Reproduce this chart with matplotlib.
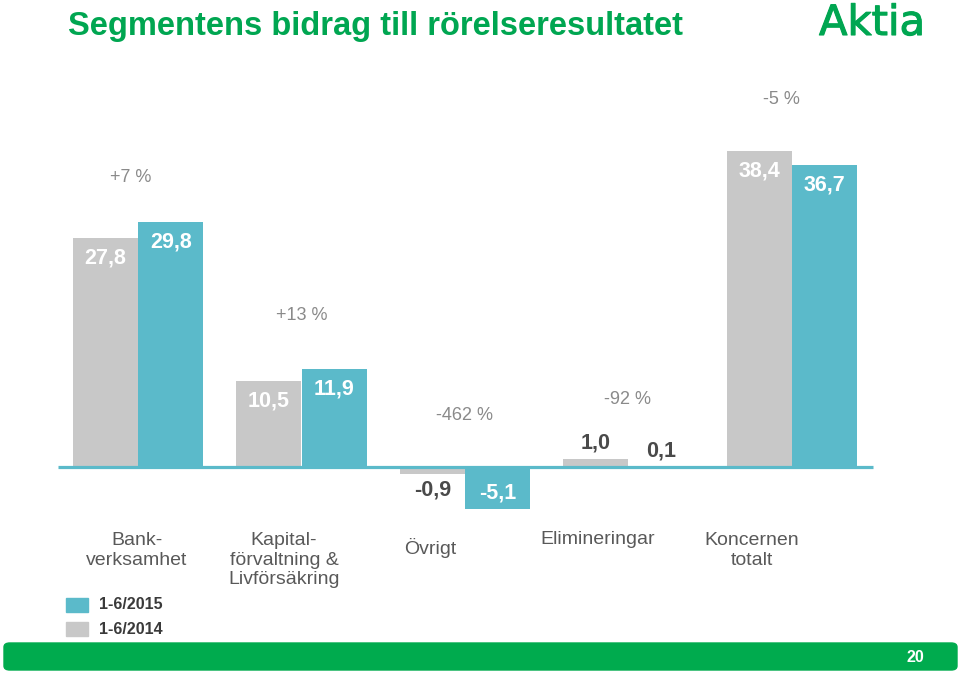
import matplotlib
matplotlib.use("Agg")
import matplotlib.pyplot as plt
import matplotlib.patheffects as pe
from matplotlib.patches import FancyBboxPatch, Rectangle

# data
segments = ["Bank-\nverksamhet", "Kapital-\nförvaltning &\nLivförsäkring", "Övrigt",
            "Elimineringar", "Koncernen\ntotalt"]
values_2014 = [27.8, 10.5, -0.9, 1.0, 38.4]
values_2015 = [29.8, 11.9, -5.1, 0.1, 36.7]
labels_2014 = ["27,8", "10,5", "-0,9", "1,0", "38,4"]
labels_2015 = ["29,8", "11,9", "-5,1", "0,1", "36,7"]
changes = ["+7 %", "+13 %", "-462 %", "-92 %", "-5 %"]
series = ["1-6/2015", "1-6/2014"]

GRAY = "#c8c8c8"
TEAL = "#5bbaca"
GREEN = "#00a651"
W, H = 960, 674
plt.rcParams['font.family'] = ['Liberation Sans', 'DejaVu Sans']

fig = plt.figure(figsize=(W / 100, H / 100), dpi=100)

# axes covers whole figure; baseline at y=467px, 8.23 px per unit, groups every 163.5 px
base_px, per_unit = 467, 8.23
x0_px, step_px = 138, 163.5
ax = fig.add_axes([0, 0, 1, 1])
ax.set_xlim((0 - x0_px) / step_px, (W - x0_px) / step_px)
ax.set_ylim(-(H - base_px) / per_unit, base_px / per_unit)
ax.axis("off")

def fx(px):
    return px / W

def fy(py):
    return 1 - py / H

idx = list(range(len(segments)))
bw = 0.398
off = 0.2
ax.bar([i - off for i in idx], values_2014, width=bw, color=GRAY, zorder=2)
ax.bar([i + off for i in idx], values_2015, width=bw, color=TEAL, zorder=2)
ax.plot([(58 - x0_px) / step_px, (873 - x0_px) / step_px], [0, 0], color=TEAL, lw=2.3, zorder=3,
        solid_capstyle="butt")

def value_label(x, v, txt):
    if abs(v) >= 5:
        if v > 0:
            ax.annotate(txt, (x, v), xytext=(0, -20), textcoords="offset pixels", ha="center",
                        va="center", color="white", fontsize=15.5, fontweight="bold", zorder=4)
        else:
            ax.annotate(txt, (x, v), xytext=(0, 16), textcoords="offset pixels", ha="center",
                        va="center", color="white", fontsize=15.5, fontweight="bold", zorder=4)
    else:
        if v > 0:
            ax.annotate(txt, (x, v), xytext=(0, 5), textcoords="offset pixels", ha="center",
                        va="bottom", color="#4a4a4a", fontsize=15.5, fontweight="bold", zorder=4)
        else:
            ax.annotate(txt, (x, v), xytext=(0, -5), textcoords="offset pixels", ha="center",
                        va="top", color="#4a4a4a", fontsize=15.5, fontweight="bold", zorder=4)

for i in idx:
    value_label(i - off, values_2014[i], labels_2014[i])
    value_label(i + off, values_2015[i], labels_2015[i])

# change percentages above each group
pct_pos = [(131, 177), (302, 316), (464, 415), (628, 400), (781, 99)]
for (px, py), txt in zip(pct_pos, changes):
    fig.text(fx(px), fy(py), txt, ha="center", va="center", color="#8a8a8a", fontsize=13)

# category labels
cat_pos = [(137, 532, "top"), (284, 532, "top"), (430, 548, "center"), (598, 540, "center"),
           (752, 532, "top")]
for (px, py, va), txt in zip(cat_pos, segments):
    fig.text(fx(px), fy(py), txt, ha="center", va=va, color="#595959", fontsize=14,
             linespacing=1.2)

# legend
for (py, col), txt in zip([(604.5, TEAL), (629, GRAY)], series):
    fig.patches.append(Rectangle((fx(66), fy(py + 7)), 22 / W, 14 / H, transform=fig.transFigure,
                                 color=col, figure=fig))
    fig.text(fx(99), fy(py), txt, ha="left", va="center", color="#3a3a3a", fontsize=11.5,
             fontweight="bold")

# title and logo
fig.text(fx(68), fy(26), "Segmentens bidrag till rörelseresultatet", ha="left", va="center",
         color=GREEN, fontsize=23.5, fontweight="bold")
fig.text(fx(925), fy(23), "Aktia", ha="right", va="center", color=GREEN, fontsize=30,
         family=["DejaVu Sans"],
         path_effects=[pe.withStroke(linewidth=0.8, foreground=GREEN)])

# footer bar
fig.patches.append(FancyBboxPatch((fx(4), fy(670)), (957 - 4) / W, 27 / H,
                                  boxstyle="round,pad=0,rounding_size=0.006",
                                  transform=fig.transFigure, color="#00ab4e", figure=fig))
fig.text(fx(915), fy(657), "20", ha="center", va="center", color="white", fontsize=11.5,
         fontweight="bold")

fig.savefig("out.png", dpi=100)
